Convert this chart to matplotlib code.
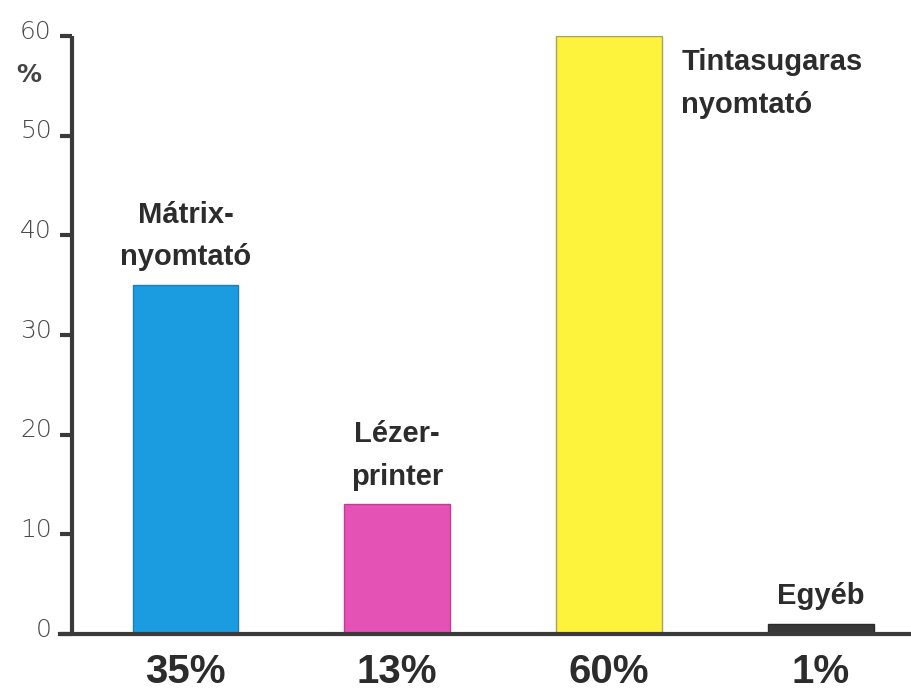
import matplotlib
matplotlib.use("Agg")
import matplotlib.pyplot as plt
from matplotlib.transforms import ScaledTranslation

# Printer types and their market share (%)
categories = ["Mátrix-\nnyomtató", "Lézer-\nprinter", "Tintasugaras\nnyomtató", "Egyéb"]
shares = [35, 13, 60, 1]
share_labels = ["35%", "13%", "60%", "1%"]
y_ticks = [0, 10, 20, 30, 40, 50, 60]

bar_colors = ["#1b9be0", "#e552b6", "#fdf33c", "#383838"]
edge_colors = ["#1a7fc0", "#c03d96", "#a8a060", "#2a2a2a"]
axis_color = "#3a3a3a"
text_color = "#2c2c2c"

W, H, DPI = 911, 694, 100
fig = plt.figure(figsize=(W / DPI, H / DPI), dpi=DPI)
fig.patch.set_facecolor("white")

# axes box in pixel terms: x-axis line starts at 60 px, y spine at 72 px
ax = fig.add_axes([60 / W, (H - 634) / H, (W - 60) / W, 598 / H])
ax.set_facecolor("none")

x = list(range(len(categories)))
ax.bar(x, shares, width=0.5, color=bar_colors, edgecolor=edge_colors,
       linewidth=1.0, zorder=2)

px_per_unit = 211.7
ax.set_xlim(-(185.5 - 60) / px_per_unit, (W - 185.5) / px_per_unit)
ax.set_ylim(0, 60)

for s in ["top", "right"]:
    ax.spines[s].set_visible(False)
ax.spines["left"].set_position(("data", -(185.5 - 72) / px_per_unit))
for s in ["left", "bottom"]:
    ax.spines[s].set_color(axis_color)
    ax.spines[s].set_linewidth(3.0)
ax.spines["bottom"].set_zorder(3)
ax.spines["left"].set_capstyle("butt")

ax.set_xticks([])
ax.set_yticks(y_ticks)
ax.set_yticklabels([str(t) for t in y_ticks])
ax.tick_params(axis="y", direction="out", length=8.5, width=3.0,
               color=axis_color, pad=6, labelsize=18, labelcolor="#4a4a4a")
for lab in ax.get_yticklabels():
    lab.set_fontfamily("DejaVu Sans")
    lab.set_fontweight("light")
    lab.set_transform(lab.get_transform() + ScaledTranslation(0, 5 / 72, fig.dpi_scale_trans))

# unit label under the top tick
fig.text(16 / W, 1 - 82 / H, "%", fontsize=18, fontweight="bold",
         color="#444444", family="DejaVu Sans", ha="left", va="baseline")

label_font = dict(family="Liberation Sans", fontweight="bold", fontsize=21,
                  color=text_color, linespacing=1.65)

# category names above the bars (the tallest one sits beside its bar)
for i, (name, v) in enumerate(zip(categories, shares)):
    if v == max(shares):
        ax.annotate(name, xy=(i + 0.25, v), xytext=(14, -9),
                    textcoords="offset points", ha="left", va="top",
                    annotation_clip=False, **label_font)
    else:
        ax.annotate(name, xy=(i, v), xytext=(0, 10),
                    textcoords="offset points", ha="center", va="bottom",
                    **label_font)

# share values below the axis
for i, lab in enumerate(share_labels):
    ax.annotate(lab, xy=(i, 0), xytext=(0, -14), textcoords="offset points",
                ha="center", va="top", family="Liberation Sans",
                fontweight="bold", fontsize=29, color=text_color,
                annotation_clip=False)

fig.savefig("out.png", dpi=DPI, facecolor="white")
